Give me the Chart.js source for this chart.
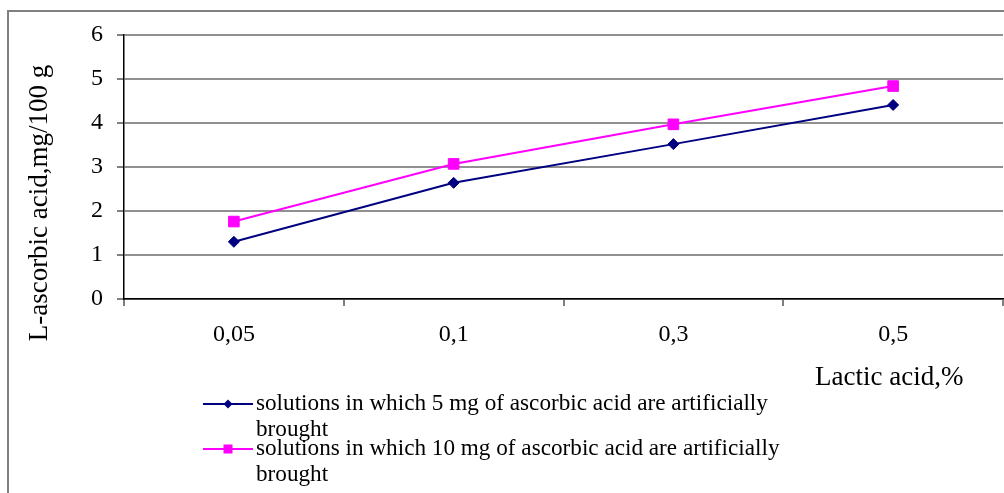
<!DOCTYPE html>
<html>
<head>
<meta charset="utf-8">
<script src="https://cdn.jsdelivr.net/npm/chart.js@4/dist/chart.umd.min.js"></script>
<style>
  html, body { margin: 0; padding: 0; background: #ffffff; }
  canvas { display: block; }
</style>
</head>
<body>
<canvas id="c" width="1004" height="493"></canvas>
<script>
// ---- data ----
const categories = ['0,05', '0,1', '0,3', '0,5'];
const series5mg = [1.30, 2.64, 3.52, 4.41];
const series10mg = [1.76, 3.07, 3.97, 4.84];
const seriesNames = [
  ['solutions in which 5 mg of ascorbic acid are artificially', 'brought'],
  ['solutions in which 10 mg of ascorbic acid are artificially', 'brought']
];
const yAxisTitle = 'L-ascorbic acid,mg/100 g';
const xAxisTitle = 'Lactic acid,%';
const yMin = 0, yMax = 6, yStep = 1;

const FONT = '"Liberation Serif", "Times New Roman", serif';

const framePlugin = {
  id: 'frame',
  beforeDraw(chart) {
    const ctx = chart.ctx;
    ctx.save();
    ctx.fillStyle = '#ffffff';
    ctx.fillRect(0, 0, chart.width, chart.height);
    ctx.strokeStyle = '#808080';
    ctx.lineWidth = 2;
    ctx.strokeRect(8, 11, 1100, 600);
    ctx.restore();
  },
  afterDraw(chart) {
    const ctx = chart.ctx;
    ctx.save();
    ctx.fillStyle = '#000000';
    // y axis title
    ctx.save();
    ctx.translate(40, 203);
    ctx.rotate(-Math.PI / 2);
    ctx.font = '27px ' + FONT;
    ctx.textAlign = 'center';
    ctx.textBaseline = 'middle';
    ctx.fillText(yAxisTitle, 0, 0);
    ctx.restore();
    // x axis title
    ctx.font = '27px ' + FONT;
    ctx.textAlign = 'left';
    ctx.textBaseline = 'middle';
    ctx.fillText(xAxisTitle, 815, 378);
    // legend
    const rows = [404, 449];
    chart.data.datasets.forEach((ds, i) => {
      const y = rows[i];
      ctx.strokeStyle = ds.borderColor;
      ctx.lineWidth = 2;
      ctx.beginPath();
      ctx.moveTo(203, y);
      ctx.lineTo(253, y);
      ctx.stroke();
      ctx.fillStyle = ds.backgroundColor;
      if (ds.pointStyle === 'rect') {
        ctx.fillRect(223.5, y - 4.5, 9, 9);
      } else {
        ctx.beginPath();
        ctx.moveTo(228, y - 4.5);
        ctx.lineTo(232.5, y);
        ctx.lineTo(228, y + 4.5);
        ctx.lineTo(223.5, y);
        ctx.closePath();
        ctx.fill();
      }
      ctx.fillStyle = '#000000';
      ctx.font = '23.2px ' + FONT;
      ctx.textAlign = 'left';
      ctx.textBaseline = 'middle';
      seriesNames[i].forEach((line, j) => {
        ctx.fillText(line, 256, y + j * 26);
      });
    });
    ctx.restore();
  }
};

new Chart(document.getElementById('c'), {
  type: 'line',
  data: {
    labels: categories,
    datasets: [
      {
        label: seriesNames[0].join(' '),
        data: series5mg,
        borderColor: '#000080',
        backgroundColor: '#000080',
        borderWidth: 2,
        pointStyle: 'rectRot',
        pointRadius: 5.5,
        pointBorderWidth: 1,
        tension: 0,
        clip: false
      },
      {
        label: seriesNames[1].join(' '),
        data: series10mg,
        borderColor: '#FF00FF',
        backgroundColor: '#FF00FF',
        borderWidth: 2,
        pointStyle: 'rect',
        pointRadius: 7.5,
        pointBorderWidth: 1,
        tension: 0,
        clip: false
      }
    ]
  },
  options: {
    responsive: false,
    animation: false,
    devicePixelRatio: 1,
    layout: { autoPadding: false, padding: { left: 0, top: 35, right: 1, bottom: 134 } },
    plugins: { legend: { display: false }, tooltip: { enabled: false } },
    scales: {
      x: {
        type: 'category',
        offset: true,
        afterFit(scale) {
          scale.height = 60;
          scale.paddingLeft = 0;
          scale.paddingRight = 0;
        },
        grid: {
          offset: true,
          drawOnChartArea: true,
          color: (c) => (c.index === categories.length ? '#909090' : 'rgba(0,0,0,0)'),
          lineWidth: 2,
          tickColor: '#000000',
          tickLength: 7,
          tickWidth: 1
        },
        border: { display: true, color: '#000000', width: 1.5 },
        ticks: {
          color: '#000000',
          font: { family: FONT, size: 24 },
          padding: 14,
          maxRotation: 0,
          autoSkip: false
        }
      },
      y: {
        min: yMin,
        max: yMax,
        afterFit(scale) { scale.width = 124; },
        grid: {
          color: '#909090',
          lineWidth: 2,
          tickColor: '#000000',
          tickLength: 7,
          tickWidth: 1
        },
        border: { display: true, color: '#000000', width: 1.5 },
        ticks: {
          stepSize: yStep,
          color: '#000000',
          font: { family: FONT, size: 24 },
          padding: 14
        }
      }
    }
  },
  plugins: [framePlugin]
});
</script>
</body>
</html>
